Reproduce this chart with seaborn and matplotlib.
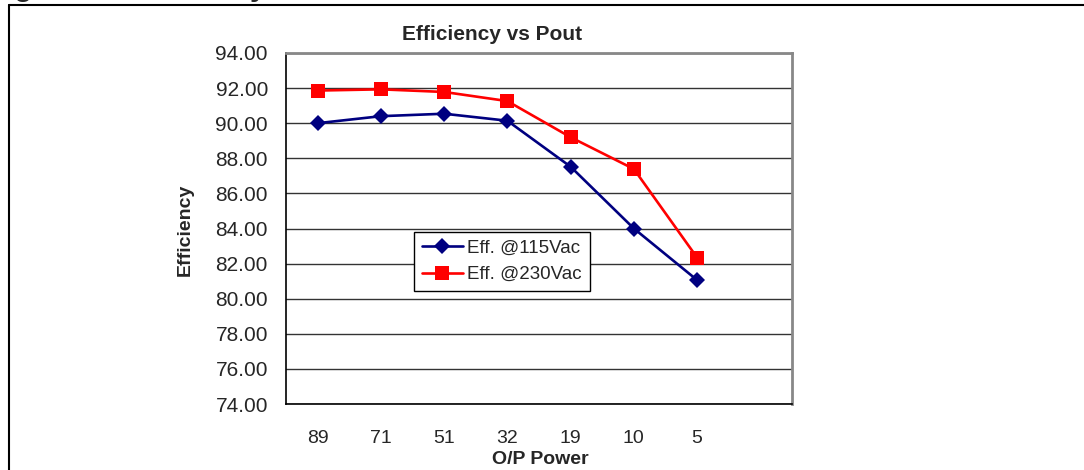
import numpy as np
import pandas as pd
import matplotlib
matplotlib.use("Agg")
import matplotlib.pyplot as plt
import seaborn as sns
from matplotlib.lines import Line2D
from matplotlib.ticker import FixedLocator

# data
power_labels = ["89", "71", "51", "32", "19", "10", "5"]
eff_115 = [90.00, 90.40, 90.54, 90.14, 87.52, 84.00, 81.06]
eff_230 = [91.86, 91.93, 91.78, 91.26, 89.20, 87.39, 82.34]
series_names = ["Eff. @115Vac", "Eff. @230Vac"]
series_colors = ["#000080", "#ff0000"]
series_markers = ["D", "s"]
y_ticks = [74, 76, 78, 80, 82, 84, 86, 88, 90, 92, 94]

sns.set_style("white")
plt.rcParams["font.family"] = ["Liberation Sans", "DejaVu Sans"]

fig = plt.figure(figsize=(10.84, 4.70), dpi=100)
ax = fig.add_axes([286 / 1084, 66 / 470, 506 / 1084, 351 / 470])

for name, vals, col, mk, ms in zip(series_names, [eff_115, eff_230],
                                   series_colors, series_markers, [8.5, 9.5]):
    df = pd.DataFrame({"power": power_labels, "eff": vals})
    sns.lineplot(data=df, x="power", y="eff", ax=ax, color=col, marker=mk,
                 markersize=ms, markeredgewidth=0, linewidth=1.9,
                 sort=False, label=name, legend=False)

# 8 category slots, last one empty
ax.set_xlim(-0.5, len(power_labels) + 0.5)
ax.set_xticks(range(len(power_labels)))
ax.set_xticklabels(power_labels)
ax.xaxis.set_minor_locator(FixedLocator(np.arange(-0.5, len(power_labels) + 1, 1.0)))
ax.tick_params(axis="x", which="major", length=0, pad=19, labelsize=14)
ax.tick_params(axis="x", which="minor", length=7, width=1, color="black", direction="out")

ax.set_ylim(74, 94)
ax.set_yticks(y_ticks)
ax.set_yticklabels([f"{v:.2f}" for v in y_ticks])
ax.tick_params(axis="y", length=7, width=1, color="black", direction="out", pad=6, labelsize=15)
ax.yaxis.grid(True, color="#333333", linewidth=1)
ax.set_axisbelow(True)
ax.set_xlabel("")
ax.set_ylabel("")

for side in ["left", "bottom"]:
    ax.spines[side].set_color("black")
    ax.spines[side].set_linewidth(1.2)
for side in ["top", "right"]:
    ax.spines[side].set_visible(True)
    ax.spines[side].set_color("#888888")
    ax.spines[side].set_linewidth(2)

leg = ax.legend(loc="upper left", bbox_to_anchor=(414 / 1084, 1 - 232 / 470),
                bbox_transform=fig.transFigure, fontsize=13.5, frameon=True,
                fancybox=False, edgecolor="black", framealpha=1,
                handlelength=2.2, handletextpad=0.25, labelspacing=0.5,
                borderpad=0.4, borderaxespad=0)
leg.get_frame().set_linewidth(1)

fig.text(492 / 1084, 1 - 34 / 470, "Efficiency vs Pout", ha="center", va="center",
         fontsize=15, fontweight="bold")
fig.text(540 / 1084, 1 - 460 / 470, "O/P Power", ha="center", va="center",
         fontsize=14, fontweight="bold")
fig.text(185 / 1084, 1 - 230 / 470, "Efficiency", ha="center", va="center",
         rotation=90, fontsize=14, fontweight="bold")

# caption above the frame, cut off by the top edge as in the reference
fig.text(-13 / 1084, 1 - 2 / 470, "Figure 9. Efficiency", ha="left", va="bottom",
         fontsize=22, fontweight="bold")

# outer frame (top and left edges)
fig.add_artist(Line2D([9 / 1084, 9 / 1084], [0, 1 - 5 / 470], color="black",
                      linewidth=1.5, transform=fig.transFigure))
fig.add_artist(Line2D([9 / 1084, 1], [1 - 5 / 470, 1 - 5 / 470], color="black",
                      linewidth=1.5, transform=fig.transFigure))

fig.savefig("out.png", dpi=100)
